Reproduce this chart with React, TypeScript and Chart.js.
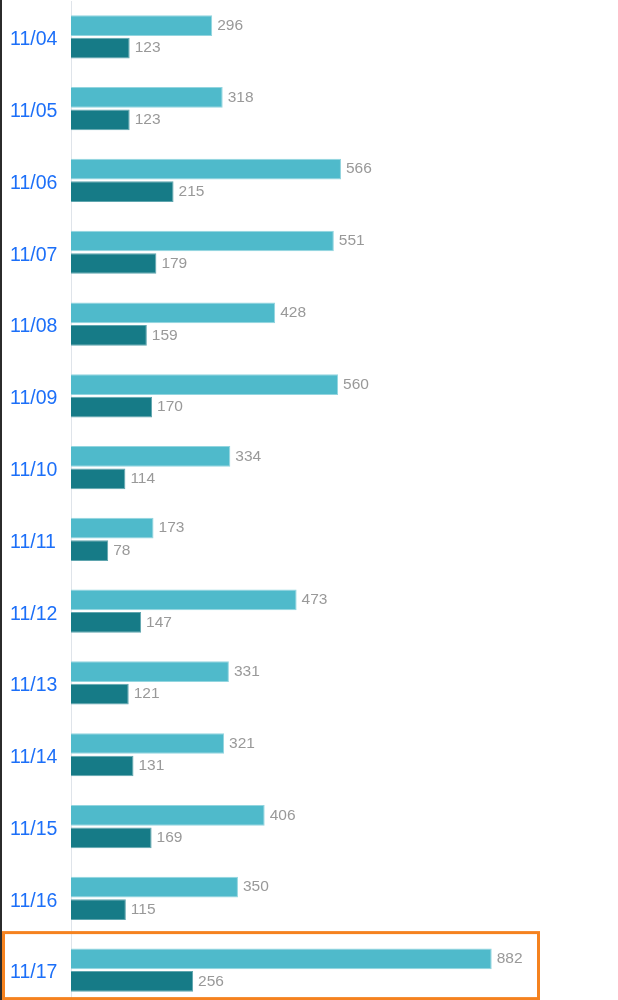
import React, { useRef, useEffect } from 'react'
import { Chart, registerables } from 'chart.js'

Chart.register(...registerables)

const labels = ['11/04', '11/05', '11/06', '11/07', '11/08', '11/09', '11/10', '11/11', '11/12', '11/13', '11/14', '11/15', '11/16', '11/17']
const totalValues = [296, 318, 566, 551, 428, 560, 334, 173, 473, 331, 321, 406, 350, 882]
const subValues = [123, 123, 215, 179, 159, 170, 114, 78, 147, 121, 131, 169, 115, 256]
const highlightIndex = 13

const FONT = 'Helvetica, Arial, "Liberation Sans", sans-serif'

// draws the number next to the end of every bar
const valueLabels = {
  id: 'valueLabels',
  afterDatasetsDraw(chart: any) {
    const ctx = chart.ctx
    ctx.save()
    ctx.font = `15.5px ${FONT}`
    ctx.fillStyle = '#999999'
    ctx.textAlign = 'left'
    ctx.textBaseline = 'middle'
    chart.data.datasets.forEach((ds: any, i: number) => {
      const meta = chart.getDatasetMeta(i)
      meta.data.forEach((bar: any, j: number) => {
        ctx.fillText(String(ds.data[j]), bar.x + 5, bar.y)
      })
    })
    ctx.restore()
  },
}

// orange frame around the last day
const highlightBox = {
  id: 'highlightBox',
  afterDraw(chart: any) {
    const ctx = chart.ctx
    const y = chart.scales.y.getPixelForValue(highlightIndex)
    ctx.save()
    ctx.strokeStyle = '#f5821f'
    ctx.lineWidth = 3
    ctx.strokeRect(1.5, y - 37.5, 535, 66)
    ctx.restore()
  },
}

export default function App() {
  const chartRef = useRef<HTMLCanvasElement>(null)

  useEffect(() => {
    document.body.style.margin = '0'
    if (!chartRef.current) return
    const chart = new Chart(chartRef.current, {
      type: 'bar',
      data: {
        labels,
        datasets: [
          {
            label: 'total',
            data: totalValues,
            backgroundColor: '#4fbacb',
            borderColor: '#93d5df',
            borderWidth: 1,
            categoryPercentage: 0.627,
            barPercentage: 0.92,
          },
          {
            label: 'sub',
            data: subValues,
            backgroundColor: '#167b87',
            borderColor: '#5fa5ae',
            borderWidth: 1,
            categoryPercentage: 0.627,
            barPercentage: 0.92,
          },
        ],
      },
      options: {
        indexAxis: 'y',
        animation: false,
        responsive: true,
        maintainAspectRatio: false,
        layout: { padding: { top: 1, left: 8, right: 70, bottom: 0 } },
        plugins: {
          legend: { display: false },
          tooltip: { enabled: false },
        },
        scales: {
          x: {
            display: false,
            min: 0,
            max: 1000,
          },
          y: {
            afterFit: (scale: any) => {
              scale.width = 61
              scale.paddingTop = 0
              scale.paddingBottom = 0
            },
            grid: { display: false },
            border: { display: true, color: '#dfe4ea', width: 1 },
            ticks: {
              crossAlign: 'far',
              color: '#1c6ff8',
              font: { family: FONT, size: 19.5 },
              padding: 0,
              labelOffset: 3,
            },
          },
        },
      },
      plugins: [valueLabels, highlightBox],
    })
    return () => {
      chart.destroy()
    }
  }, [])

  return (
    <div style={{ width: 616, height: 1000, overflow: 'hidden', borderLeft: '2px solid #2b2b2b', background: '#fff' }}>
      <div style={{ position: 'relative', width: 616, height: 1006 }}>
        <canvas ref={chartRef}></canvas>
      </div>
    </div>
  )
}
